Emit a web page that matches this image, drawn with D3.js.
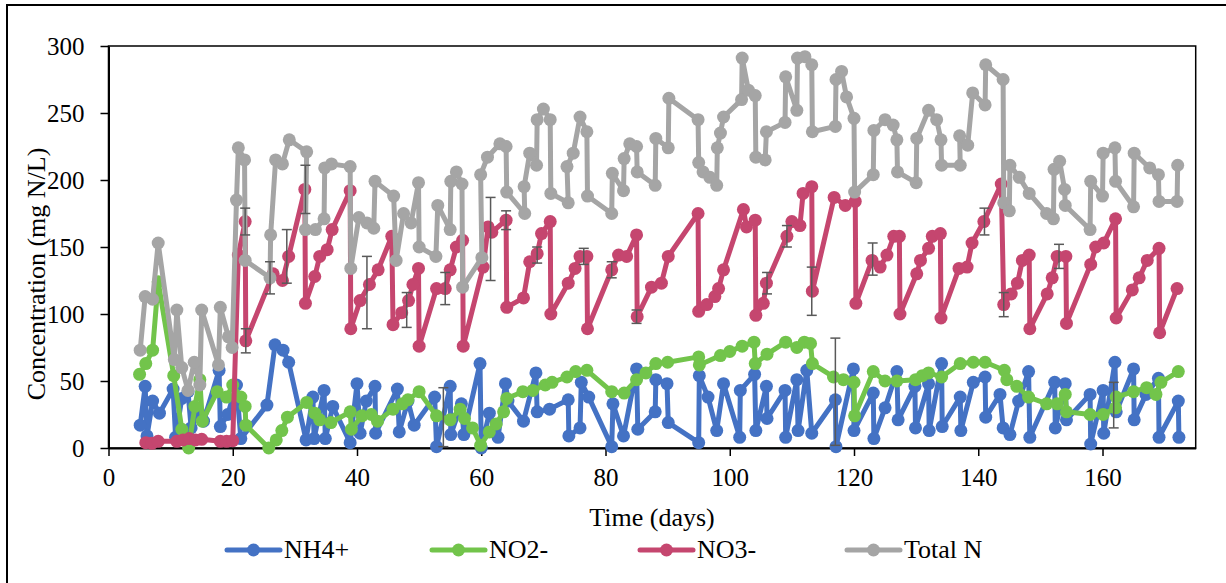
<!DOCTYPE html>
<html>
<head>
<meta charset="utf-8">
<script src="https://cdn.jsdelivr.net/npm/d3@7"></script>
<style>
  body { margin: 0; background: #fff; }
  svg text { font-family: "Liberation Serif", "Times New Roman", serif !important; fill: #000; }
</style>
</head>
<body>
<svg id="chart" width="1226" height="583"></svg>
<script>
// Axis ticks
const xTicks = [0, 20, 40, 60, 80, 100, 120, 140, 160];
const yTicks = [0, 50, 100, 150, 200, 250, 300];

// NH4+ (mg N/L)
const nh4Day = [5.1, 5.9, 6.2, 7.1, 8.2, 10.4, 10.8, 11.8, 12.8, 13.3, 14.5, 15.3, 17.8, 18, 19.2, 20.6, 21.3, 25.5, 26.8, 28.1, 29,
  31.8, 32.9, 33.1, 34.7, 34.9, 36.1, 38.9, 40, 40.5, 41.5, 42.9, 43, 46.5, 46.8, 48.2, 49.2, 52.5, 52.8, 55, 55.1, 56.8, 57.2,
  59.8, 60, 61.3, 62.7, 63.9, 64.3, 66.8, 68.8, 69, 71, 74, 74.1, 75.9, 76.1, 77.3, 81, 81.2, 82.9, 85, 85.2, 88, 88.1, 89.9, 90.1,
  95, 95.1, 96.5, 97.9, 99, 101.6, 101.7, 104, 104.2, 105.9, 106, 108.9, 109, 110.8, 111, 112.4, 113.2, 117, 117.1, 119.9, 120,
  123.1, 123.2, 125, 126.9, 127.1, 129.8, 129.9, 132, 132.1, 134.1, 134.2, 137.1, 137.2, 139.2, 141.1, 141.2, 143.5, 144, 145.1,
  146.5, 148.1, 148.3, 152.3, 152.4, 154, 154.2, 158, 158.1, 160.1, 160.2, 162, 162.2, 165, 165.1, 167, 169, 169.1, 172.2, 172.3];
const nh4 = [17, 46, 9, 35, 26, 44, 8, 37, 42, 15, 27, 20, 58, 16, 25, 47, 7, 32, 77, 73, 64,
  6, 38, 7, 43, 7, 31, 4, 48, 11, 35, 46, 11, 44, 12, 35, 17, 38, 1, 46, 10, 33, 10,
  63, 0, 26, 8, 48, 35, 20, 56, 27, 29, 36, 9, 15, 49, 38, 1, 33, 9, 59, 14, 27, 51, 48, 19,
  4, 54, 38, 13, 48, 8, 43, 55, 13, 46, 22, 43, 8, 51, 13, 58, 11, 36, 1, 59, 13,
  41, 7, 30, 57, 21, 46, 15, 48, 13, 63, 16, 38, 13, 49, 53, 23, 40, 15, 10,
  35, 57, 8, 49, 15, 48, 21, 40, 3, 43, 11, 64, 27, 59, 21, 40, 52, 8, 35, 8];

// NO2- (mg N/L)
const no2Day = [5, 6, 7.1, 8, 10.5, 11.8, 12.9, 13.9, 14.7, 15.1, 17.5, 19, 20, 21.3, 22, 22.1, 25.8, 27, 27.9, 28.8,
  31.9, 33.2, 34, 35.8, 38.9, 39.1, 40.8, 42.3, 43.3, 45.8, 47.3, 48.2, 50, 52.8, 55, 56.6, 57.3, 58.6, 59.9, 61.3, 62.4,
  63.6, 64.1, 66.7, 68.3, 70.3, 71.4, 73.8, 75.2, 77, 81, 83, 85, 86.5, 88.1, 90, 95, 95.1, 98.5, 100, 102, 103.9, 104.1,
  106, 109, 110.8, 112, 113, 113.3, 116.7, 118.3, 120, 120.1, 123.1, 125, 126.9, 129.9, 131, 132, 134.1, 137.1, 139.2,
  141.1, 144.2, 144.6, 146.2, 148.1, 151, 152.7, 154, 154.2, 158, 160.1, 162.1, 162.2, 165, 167.1, 168.6, 169.4, 172.2];
const no2 = [55, 63, 73, 124, 54, 14, 0, 31, 51, 20, 42, 38, 47, 38, 31, 17, 0, 6, 13, 23,
  34, 26, 21, 19, 27, 14, 24, 25, 20, 29, 33, 36, 42, 24, 21, 29, 22, 15, 2, 12, 18,
  27, 37, 42, 43, 47, 49, 53, 57, 58, 42, 41, 51, 56, 63, 64, 68, 62, 69, 72, 76, 79, 63,
  70, 79, 75, 79, 78, 63, 53, 51, 49, 24, 57, 50, 50, 51, 54, 56, 53, 63, 64,
  64, 58, 51, 46, 38, 33, 33, 40, 27, 25, 25, 30, 38, 42, 45, 40, 49, 57];

// NO3- (mg N/L)
const no3Day = [6, 7, 8, 11, 12, 13, 14, 15, 18, 19, 20, 20.9, 22, 22.1, 26.5, 28, 29, 31.6, 31.7, 33.2, 34, 35.2, 36,
  38.9, 39, 40.5, 42, 43.4, 45.6, 45.8, 47.2, 48.3, 49, 49.9, 50, 52.8, 54.2, 55, 56, 57, 57.1, 60.3, 61.1, 61.7, 64,
  64.1, 66.8, 67.8, 69, 69.7, 71.1, 71.2, 74, 75.1, 75.9, 77, 77.1, 81, 82.1, 83.4, 85, 85.1, 87.4, 89, 90.1, 94.9, 95,
  96.3, 97.6, 98.2, 99, 102.2, 102.7, 104.1, 104.2, 105.4, 105.9, 109.2, 110, 111.3, 111.8, 113.2, 113.3, 116.8, 118.6,
  120.2, 120.3, 122.9, 124.2, 125.3, 126.4, 127.3, 127.4, 130.1, 130.7, 132, 132.6, 133.9, 134, 136.9, 138.2, 139, 140.9,
  143.7, 144.1, 145.3, 146.3, 147.1, 148.2, 148.3, 151.1, 151.9, 152.7, 154.1, 154.2, 158.1, 158.9, 160.2, 162.1, 162.2,
  164.8, 165.9, 167.2, 169.1, 169.2, 172];
const no3 = [4, 3.5, 5, 5, 6, 7, 6, 6.5, 5, 5, 5.5, 144, 169, 80, 130, 125, 143, 193, 108, 128, 143, 148, 163,
  192, 89, 110, 122, 133, 158, 92, 101, 110, 122, 134, 76, 119, 119, 133, 150, 155, 76, 135, 165, 161, 170,
  105, 112, 139, 145, 160, 169, 100, 123, 134, 143, 143, 89, 133, 144, 143, 159, 98, 120, 123, 143, 175, 102,
  107, 113, 119, 133, 178, 165, 170, 99, 108, 123, 158, 169, 166, 190, 195, 117, 187, 181,
  184, 108, 140, 135, 144, 158, 158, 100, 130, 140, 149, 158, 160, 97, 134, 135, 153, 169,
  197, 107, 115, 123, 140, 144, 89, 115, 127, 143, 143, 93, 137, 150, 153, 171, 97,
  118, 127, 140, 149, 86, 119];

// Total N (mg N/L)
const tnDay = [5.1, 5.9, 7.1, 8, 10.6, 11, 11.8, 12.8, 13.8, 14.7, 15, 17.7, 18, 19.3, 19.9, 20.6, 20.9, 21.9, 22,
  26, 26.1, 26.9, 28, 29.1, 31.9, 31.7, 33.3, 34.7, 34.8, 35.9, 38.9, 39, 40.3, 41.6, 42.7, 42.9, 45.9, 46.3, 47.5,
  48.7, 49.9, 50, 52.7, 53, 55, 55.1, 56, 56.9, 57, 60.1, 59.9, 61, 63, 64, 64.1, 67, 66.9, 67.8, 68.9, 69, 70, 71.1,
  71.2, 74, 73.8, 74.8, 75.9, 77, 77.1, 81, 81.1, 82.9, 83, 83.9, 85, 85.1, 88, 88.1, 90.1, 90.2, 94.9, 95, 95.7, 96.8,
  97.9, 98, 98.5, 99, 101.9, 102, 103, 104.1, 104.2, 105.7, 105.9, 108.9, 109, 110.8, 110.9, 112.1, 113.2, 113.3, 117,
  117.1, 118, 118.8, 120, 120.1, 123.1, 123.2, 125, 126.3, 126.9, 127, 130, 130.1, 132, 133.3, 134, 134.1, 137.1, 137,
  138.3, 139.1, 141.1, 141.2, 144, 144.1, 145, 145.1, 146.6, 148.2, 151, 152.1, 152.2, 153.1, 153.9, 154, 158, 158.1,
  160, 160.1, 162, 162.1, 165, 165.1, 167.6, 169, 169.1, 172, 172.1];
const tn = [73, 113, 111, 153, 66, 103, 60, 43, 64, 47, 103, 62, 105, 83, 75, 185, 224, 215, 140,
  127, 159, 215, 212, 230, 221, 163, 163, 171, 209, 212, 210, 134, 172, 168, 164, 199, 188, 140, 175,
  168, 198, 150, 143, 181, 163, 199, 206, 197, 120, 142, 204, 217, 227, 225, 191, 175, 195, 220, 211, 245, 253, 245,
  190, 183, 210, 220, 247, 236, 188, 175, 205, 192, 216, 227, 225, 206, 196, 231, 224, 261, 245, 213, 206, 202,
  196, 224, 235, 247, 260, 291, 267, 263, 217, 215, 236, 243, 277, 252, 291, 292, 286, 236, 240,
  275, 281, 262, 246, 191, 204, 237, 245, 241, 230, 206, 198, 231, 252, 245, 230, 211, 211, 233,
  226, 265, 256, 286, 275, 183, 177, 211, 202, 190, 175, 171, 208, 214, 193, 181, 163, 199,
  188, 220, 224, 199, 180, 220, 209, 204, 184, 184, 211];

// Error bars: day, centre value, half-range
const errDay  = [22, 22.1, 26, 28.7, 31.7, 41.6, 48, 53.9, 54.2, 61.5, 64, 69, 76.5, 81, 85, 106, 109.2, 113.2, 117, 123, 141, 144.1, 153, 161.8];
const errMid  = [169, 80, 127, 143, 193, 116, 103, 23, 119, 156, 170, 144, 143, 133, 98, 123, 158, 117, 42, 141, 169, 107, 143, 32];
const errHalf = [10, 9, 12, 20, 18, 27, 13, 22, 12, 31, 7, 6, 6, 6, 5, 8, 8, 18, 40, 12, 10, 9, 9, 17];

const seriesNames = ["NH4+", "NO2-", "NO3-", "Total N"];
const seriesColors = ["#4472C4", "#72C44B", "#C5466F", "#A5A5A5"];

const FONT = "'Liberation Serif', 'Times New Roman', serif";
const svg = d3.select("#chart");
const W = 1226, H = 583;

// chart area background and frame
svg.append("rect").attr("x", 0).attr("y", 0).attr("width", W).attr("height", H).attr("fill", "#fff");
svg.append("rect").attr("x", 7).attr("y", 5).attr("width", W + 20).attr("height", H + 20)
  .attr("fill", "none").attr("stroke", "#000").attr("stroke-width", 2);

const x = d3.scaleLinear().domain([0, 175]).range([108.5, 1195.7]);
const y = d3.scaleLinear().domain([0, 300]).range([448, 46]);

// plot area frame
svg.append("rect").attr("x", x(0)).attr("y", y(300)).attr("width", x(175) - x(0)).attr("height", y(0) - y(300))
  .attr("fill", "none").attr("stroke", "#000").attr("stroke-width", 1.5);

// axes
const gx = svg.append("g").attr("transform", `translate(0,${y(0)})`)
  .call(d3.axisBottom(x).tickValues(xTicks).tickSize(8).tickSizeOuter(0).tickPadding(12).tickFormat(d3.format("d")));
const gy = svg.append("g").attr("transform", `translate(${x(0)},0)`)
  .call(d3.axisLeft(y).tickValues(yTicks).tickSize(8).tickSizeOuter(0).tickPadding(16).tickFormat(d3.format("d")));
[gx, gy].forEach(g => {
  g.attr("font-family", null).attr("font-size", null);
  g.selectAll("path.domain").attr("stroke", "#000").attr("stroke-width", 2);
  g.selectAll(".tick line").attr("stroke", "#000").attr("stroke-width", 1.5);
  g.selectAll(".tick text").style("font-family", FONT).style("font-size", "25px").attr("fill", "#000");
});

// axis titles
svg.append("text").attr("x", 652).attr("y", 526).attr("text-anchor", "middle")
  .style("font-family", FONT).style("font-size", "26px").text("Time (days)");
svg.append("text").attr("transform", "translate(45,274) rotate(-90)").attr("text-anchor", "middle")
  .style("font-family", FONT).style("font-size", "26px").text("Concentration (mg N/L)");

// data series
const series = [
  { days: nh4Day, vals: nh4 },
  { days: no2Day, vals: no2 },
  { days: no3Day, vals: no3 },
  { days: tnDay, vals: tn }
];
const line = d3.line().x(d => x(d[0])).y(d => y(d[1]));
const plot = svg.append("g");
series.forEach((s, i) => {
  const pts = s.days.map((d, k) => [d, s.vals[k]]);
  const g = plot.append("g");
  g.append("path").datum(pts).attr("d", line).attr("fill", "none")
    .attr("stroke", seriesColors[i]).attr("stroke-width", 5).attr("stroke-linejoin", "round");
  g.selectAll("circle").data(pts).join("circle")
    .attr("cx", d => x(d[0])).attr("cy", d => y(d[1])).attr("r", 6.5).attr("fill", seriesColors[i]);
});

// error bars
const eb = svg.append("g").attr("stroke", "#595959").attr("stroke-width", 1.5);
errDay.forEach((d, i) => {
  const cx = x(d), y1 = y(errMid[i] + errHalf[i]), y2 = y(Math.max(0, errMid[i] - errHalf[i]));
  eb.append("line").attr("x1", cx).attr("x2", cx).attr("y1", y1).attr("y2", y2);
  eb.append("line").attr("x1", cx - 5).attr("x2", cx + 5).attr("y1", y1).attr("y2", y1);
  eb.append("line").attr("x1", cx - 5).attr("x2", cx + 5).attr("y1", y2).attr("y2", y2);
});

// legend
const legendX = [227, 432, 640, 847];
const lg = svg.append("g");
seriesNames.forEach((name, i) => {
  const lx = legendX[i];
  lg.append("line").attr("x1", lx).attr("x2", lx + 53).attr("y1", 550).attr("y2", 550)
    .attr("stroke", seriesColors[i]).attr("stroke-width", 5).attr("stroke-linecap", "round");
  lg.append("circle").attr("cx", lx + 26.5).attr("cy", 550).attr("r", 6.5).attr("fill", seriesColors[i]);
  lg.append("text").attr("x", lx + 57).attr("y", 558)
    .style("font-family", FONT).style("font-size", "26px").text(name);
});
</script>
</body>
</html>
